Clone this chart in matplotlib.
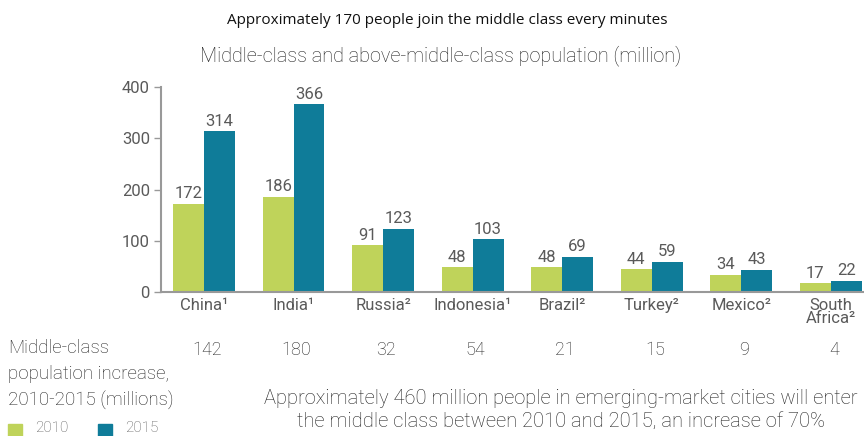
import numpy as np
import matplotlib.pyplot as plt

# Middle-class population by country (million)
countries = ["China\u00b9", "India\u00b9", "Russia\u00b2", "Indonesia\u00b9", "Brazil\u00b2",
             "Turkey\u00b2", "Mexico\u00b2", "South\nAfrica\u00b2"]
pop_2010 = [172, 186, 91, 48, 48, 44, 34, 17]
pop_2015 = [314, 366, 123, 103, 69, 59, 43, 22]
increase = [142, 180, 32, 54, 21, 15, 9, 4]
yticks = [0, 100, 200, 300, 400]

GREEN = "#bfd35a"
BLUE = "#0f7c99"
GRAY = "#5a5a5a"
DARK = "#222222"

W, H = 864, 436
plt.rcParams['font.family'] = ['Roboto', 'DejaVu Sans']

fig = plt.figure(figsize=(W / 100, H / 100), dpi=100)


def fx(px):
    return px / W


def fy(py):
    return 1 - py / H


ax = fig.add_axes([fx(161), fy(292), fx(864) - fx(161), fy(87) - fy(292)])

x = np.arange(len(countries))
bw = 0.345
b1 = ax.bar(x - bw / 2, pop_2010, bw, color=GREEN)
b2 = ax.bar(x + bw / 2, pop_2015, bw, color=BLUE)

for bars, vals in ((b1, pop_2010), (b2, pop_2015)):
    for b, v in zip(bars, vals):
        ax.text(b.get_x() + b.get_width() / 2, v + 5, str(v), ha="center", va="bottom",
                fontsize=12, color=GRAY)

ax.set_xlim(-0.48, 7.37)
ax.set_ylim(0, 400)
ax.set_yticks(yticks)
ax.set_xticks(x)
ax.set_xticklabels(countries, fontsize=12, color=GRAY, linespacing=0.9)
ax.tick_params(axis="x", length=0, pad=4)
ax.tick_params(axis="y", length=5, width=1, color="#999999", labelsize=12, labelcolor=GRAY, pad=3)
for s in ("top", "right"):
    ax.spines[s].set_visible(False)
for s in ("left", "bottom"):
    ax.spines[s].set_color("#999999")
    ax.spines[s].set_linewidth(1.5)

# Headings
fig.text(fx(447), fy(20), "Approximately 170 people join the middle class every minutes",
         ha="center", va="center", fontsize=11, color="#111111", family=["Open Sans", "DejaVu Sans"])
fig.text(fx(441), fy(56), "Middle-class and above-middle-class population (million)",
         ha="center", va="center", fontsize=14.3, color=DARK, fontweight="light")

# Increase row
fig.text(fx(8), fy(339), "Middle-class\npopulation increase,\n2010-2015 (millions)",
         ha="left", va="top", fontsize=13.5, color=DARK, fontweight="light", linespacing=1.55)
for xi, inc in zip(x, increase):
    xd = ax.transData.transform((xi, 0))[0]
    fig.text(xd / W + fx(3), fy(350), str(inc), ha="center", va="center",
             fontsize=13, color=DARK, fontweight="light")

fig.text(fx(561), fy(389), "Approximately 460 million people in emerging-market cities will enter\n"
         "the middle class between 2010 and 2015, an increase of 70%",
         ha="center", va="top", fontsize=14.5, color=DARK, fontweight="light", linespacing=1.25)

# Legend
for lx, col, lab in ((8, GREEN, "2010"), (98, BLUE, "2015")):
    fig.patches.append(plt.Rectangle((fx(lx), fy(437)), fx(14), fy(424) - fy(437),
                                     transform=fig.transFigure, color=col, clip_on=False))
    fig.text(fx(lx + 27), fy(428), lab, ha="left", va="center", fontsize=11,
             color=GRAY, fontweight="light")

fig.savefig("out.png", dpi=100)
